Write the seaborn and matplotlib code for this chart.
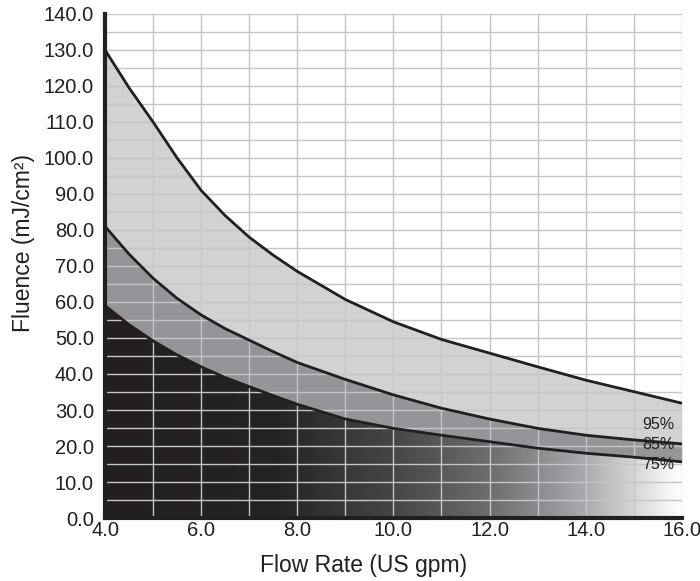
#!/usr/bin/env python3
import numpy as np
import pandas as pd
import matplotlib
matplotlib.use('Agg')
import matplotlib.pyplot as plt
from matplotlib.colors import LinearSegmentedColormap
import seaborn as sns

# Values (half steps where the curves bend most)
flow = [4, 4.5, 5, 5.5, 6, 6.5, 7, 7.5, 8, 9, 10, 11, 12, 13, 14, 15, 16]
p95 = [130.0, 119.5, 110.0, 100.0, 91.0, 84.0, 78.0, 73.0, 68.5, 60.7, 54.5,
       49.6, 45.8, 42.0, 38.3, 35.1, 31.9]
p85 = [81.0, 73.3, 66.6, 61.0, 56.4, 52.6, 49.4, 46.2, 43.2, 38.5, 34.2,
       30.5, 27.5, 24.9, 23.0, 21.7, 20.6]
p75 = [59.0, 53.7, 49.2, 45.3, 42.0, 39.0, 36.5, 34.0, 31.6, 27.5, 24.9,
       23.0, 21.2, 19.4, 18.0, 16.9, 15.6]
labels = ['95%', '85%', '75%']
label_y = [23.9, 18.3, 12.8]

sns.set_style('white')
plt.rcParams['font.family'] = ['Liberation Sans', 'DejaVu Sans']

d = pd.DataFrame({'flow': flow, '95%': p95, '85%': p85, '75%': p75})
long = d.melt(id_vars='flow', var_name='level', value_name='fluence')

fig = plt.figure(figsize=(7, 5.81), dpi=100)
ax = fig.add_axes([0.15, 0.1084, 0.824, 0.8676])

# Bands
ax.fill_between(d['flow'], d['85%'], d['95%'], color='#d1d2d4', lw=0, zorder=0.5)
ax.fill_between(d['flow'], d['75%'], d['85%'], color='#939598', lw=0, zorder=0.5)
base = ax.fill_between(d['flow'], 0, d['75%'], color='none', lw=0, zorder=0.5)

# Horizontal black-to-white gradient under the 75% curve
cmap = LinearSegmentedColormap.from_list('grad', [
    (0.0, '#231f20'), (0.30, '#262324'), (0.50, '#464547'),
    (0.67, '#6d6e70'), (0.83, '#a7a9ac'), (1.0, '#ffffff')])
grad = np.linspace(0, 1, 512).reshape(1, -1)
im = ax.imshow(grad, extent=[4, 16, 0, 140], aspect='auto', cmap=cmap,
               origin='lower', zorder=0.6, interpolation='bilinear')
im.set_clip_path(base.get_paths()[0], transform=ax.transData)

sns.lineplot(data=long, x='flow', y='fluence', units='level', estimator=None,
             color='#231f20', lw=2.0, ax=ax, zorder=3, legend=False)

for lab, yy in zip(labels, label_y):
    ax.text(15.85, yy, lab, ha='right', va='bottom', fontsize=11.5, color='#231f20', zorder=4)

ax.set_xlim(4, 16)
ax.set_ylim(0, 140)
ax.set_xticks(np.arange(4, 16.1, 2))
ax.set_xticks(np.arange(4, 16.1, 1), minor=True)
ax.set_yticks(np.arange(0, 140.1, 10))
ax.set_yticks(np.arange(0, 140.1, 5), minor=True)
ax.set_xticklabels([f'{v:.1f}' for v in np.arange(4, 16.1, 2)])
ax.set_yticklabels([f'{v:.1f}' for v in np.arange(0, 140.1, 10)])
ax.grid(True, which='both', color='#c4c5c8', lw=1.0)
ax.set_axisbelow(False)
ax.tick_params(which='both', length=0, labelsize=14.5, colors='#231f20')
ax.tick_params(axis='y', pad=8)
ax.tick_params(axis='x', pad=2)

for s in ['top', 'right']:
    ax.spines[s].set_visible(False)
for s in ['left', 'bottom']:
    ax.spines[s].set_linewidth(3)
    ax.spines[s].set_color('#231f20')
    ax.spines[s].set_zorder(5)

ax.set_xlabel('Flow Rate (US gpm)', fontsize=16.5, color='#231f20')
ax.set_ylabel('Fluence (mJ/cm²)', fontsize=16.5, color='#231f20')
ax.xaxis.set_label_coords(0.449, -0.072)
ax.yaxis.set_label_coords(-0.122, 0.546)

fig.savefig('out.png', dpi=100)
